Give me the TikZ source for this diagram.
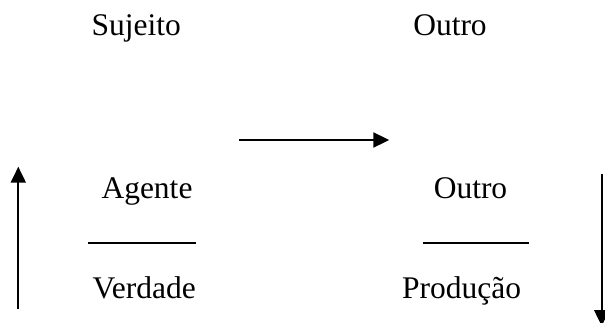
\documentclass[tikz,border=0pt]{standalone}
\usepackage{fontspec}
\setmainfont{Liberation Serif}
\usetikzlibrary{arrows.meta}
\begin{document}
\begin{tikzpicture}[x=1pt,y=-1pt,
  lbl/.style={anchor=base,inner sep=0pt,font=\fontsize{31.5}{37}\selectfont},
  arr/.style={line width=2pt,-{Triangle[length=16pt,width=15pt]}},
  bar/.style={line width=2pt}]
\useasboundingbox (0,0) rectangle (605,322);
\clip (0,0) rectangle (605,322);
\node[lbl] (suj) at (136.2,35) {Sujeito};
\node[lbl] (out1) at (450,35) {Outro};
\node[lbl] (age) at (147,198.3) {Agente};
\node[lbl] (out2) at (470.5,198.3) {Outro};
\node[lbl] (ver) at (144.2,298.3) {Verdade};
\node[lbl] (pro) at (461.7,298.3) {Produção};
\coordinate (la1) at (88.3,242.7);
\coordinate (la2) at (196,242.7);
\coordinate (lb1) at (422.7,242.7);
\coordinate (lb2) at (529.3,242.7);
\coordinate (ta) at (239.3,140);
\coordinate (tb) at (389.3,140);
\coordinate (ua) at (18.3,309.3);
\coordinate (ub) at (18.3,166.7);
\coordinate (da) at (601.7,174);
\coordinate (db) at (601.7,326);
\draw[bar] (la1) -- (la2);
\draw[bar] (lb1) -- (lb2);
\draw[arr] (ta) -- (tb);
\draw[arr] (ua) -- (ub);
\draw[arr] (da) -- (db);
\end{tikzpicture}
\end{document}
